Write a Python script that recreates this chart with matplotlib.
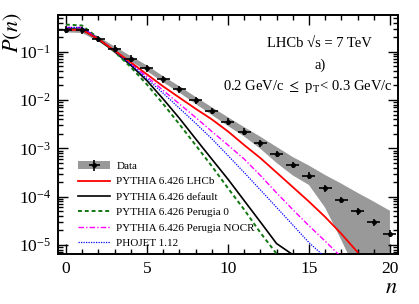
import numpy as np
import matplotlib
matplotlib.use("Agg")
import matplotlib.pyplot as plt
from matplotlib.patches import Patch
from matplotlib.legend_handler import HandlerTuple
from matplotlib.ticker import MultipleLocator, LogLocator, NullFormatter

plt.rcParams['font.family'] = ['Liberation Serif', 'DejaVu Serif']
plt.rcParams['mathtext.fontset'] = 'stix'

# multiplicity n
n_data = np.arange(0, 21)
p_data = [0.284, 0.275, 0.183, 0.114, 0.0718, 0.0452, 0.0269, 0.0166, 0.0098,
          0.0059, 0.00355, 0.00219, 0.00126, 7.6e-4, 4.5e-4, 2.7e-4, 1.5e-4,
          8.5e-5, 4.95e-5, 2.95e-5, 1.7e-5]
# systematic band (upper / lower edge)
band_hi = [0.32, 0.31, 0.205, 0.128, 0.081, 0.052, 0.031, 0.0193, 0.0116,
           0.0071, 0.0044, 0.00275, 0.00174, 0.00107, 6.6e-4, 4.4e-4, 2.8e-4,
           1.86e-4, 1.2e-4, 7.9e-5, 5.1e-5]
band_lo = [0.25, 0.243, 0.162, 0.1, 0.063, 0.0395, 0.0232, 0.0142, 0.0083,
           0.0049, 0.0029, 0.00176, 0.00098, 5.0e-4, 2.75e-4, 1.74e-4, 5.9e-5,
           1.26e-5, 2.5e-6, 1e-7, 1e-7]

n_lhcb = np.arange(0, 19)
p_lhcb = [0.282, 0.282, 0.182, 0.105, 0.0603, 0.0339, 0.0191, 0.0112, 0.0066,
          0.00398, 0.00224, 0.00117, 6.3e-4, 3.16e-4, 1.58e-4, 7.9e-5, 3.8e-5,
          1.7e-5, 7.1e-6]
n_def = np.arange(0, 15)
p_def = [0.295, 0.288, 0.178, 0.1, 0.0525, 0.0251, 0.0105, 0.0042, 0.00158,
         6.0e-4, 2.3e-4, 8.3e-5, 3.0e-5, 1.07e-5, 6.3e-6]
n_p0 = np.arange(0, 14)
p_p0 = [0.363, 0.347, 0.19, 0.1, 0.0479, 0.0209, 0.0083, 0.00316, 0.00117,
        4.3e-4, 1.5e-4, 5.4e-5, 1.8e-5, 6.6e-6]
n_nocr = np.arange(0, 18)
p_nocr = [0.316, 0.316, 0.186, 0.105, 0.0575, 0.0302, 0.0158, 0.0083, 0.00437,
          0.00224, 0.00117, 6.0e-4, 2.75e-4, 1.2e-4, 5.4e-5, 2.5e-5, 1.2e-5,
          5.6e-6]
n_phojet = np.arange(0, 17)
p_phojet = [0.316, 0.316, 0.186, 0.102, 0.055, 0.0275, 0.0138, 0.00676,
            0.00331, 0.00158, 7.1e-4, 3.16e-4, 1.38e-4, 6.0e-5, 2.6e-5,
            1.12e-5, 5.6e-6]

fig = plt.figure(figsize=(4.19, 3.04), dpi=100)
ax = fig.add_axes([0.138, 0.164, 0.812, 0.787])

ax.fill_between(n_data, band_lo, band_hi, color='#999999', lw=0, zorder=1)

p = np.array(p_data)
yerr = [p * (1 - 10 ** -0.07), p * (10 ** 0.07 - 1)]
eb = ax.errorbar(n_data, p_data, xerr=0.4, yerr=yerr, fmt='o', ms=2.5,
                 color='black', ecolor='black', elinewidth=1.2, capsize=0,
                 zorder=5)

l1, = ax.plot(n_lhcb, p_lhcb, color='red', lw=1.3, zorder=4)
l2, = ax.plot(n_def, p_def, color='black', lw=1.2, zorder=3)
l3, = ax.plot(n_p0, p_p0, color='#117711', lw=1.4, ls=(0, (2, 1.5)), zorder=3)
l4, = ax.plot(n_nocr, p_nocr, color='magenta', lw=1.0,
              ls=(0, (4, 1.5, 1, 1.5)), zorder=3)
l5, = ax.plot(n_phojet, p_phojet, color='blue', lw=0.9, ls=(0, (1, 1)),
              zorder=3)

ax.set_yscale('log')
ax.set_xlim(-0.5, 20.5)
ax.set_ylim(10 ** -5.19, 10 ** -0.24)

ax.xaxis.set_major_locator(MultipleLocator(5))
ax.xaxis.set_minor_locator(MultipleLocator(1))
ax.yaxis.set_major_locator(LogLocator(base=10, numticks=10))
ax.yaxis.set_minor_locator(LogLocator(base=10, subs=np.arange(2, 10), numticks=20))
ax.yaxis.set_minor_formatter(NullFormatter())
ax.tick_params(which='both', direction='in', top=True, right=True,
               labelsize=12.5, width=1.0)
ax.tick_params(which='major', length=7, pad=5)
ax.tick_params(which='minor', length=3.5)
for s in ax.spines.values():
    s.set_linewidth(1.4)

fig.text(0.03, 0.958, '$P(n)$', rotation=90, ha='center', va='top',
         fontsize=16)
fig.text(0.935, 0.02, '$n$', ha='center', va='bottom', fontsize=16)

ax.text(0.77, 0.88, 'LHCb \u221as = 7 TeV', transform=ax.transAxes,
        ha='center', va='center', fontsize=10.5)
ax.text(0.77, 0.79, 'a)', transform=ax.transAxes, ha='center', va='center',
        fontsize=10.5)
ax.text(0.735, 0.70, r'0.2 GeV/c $\leq$ p$_\mathrm{T}$< 0.3 GeV/c',
        transform=ax.transAxes, ha='center', va='center', fontsize=10.5)

data_handle = (Patch(facecolor='#999999', edgecolor='none'), eb)
ax.legend([data_handle, l1, l2, l3, l4, l5],
          ['Data', 'PYTHIA 6.426 LHCb', 'PYTHIA 6.426 default',
           'PYTHIA 6.426 Perugia 0', 'PYTHIA 6.426 Perugia NOCR',
           'PHOJET 1.12'],
          handler_map={tuple: HandlerTuple(ndivide=1)},
          loc='lower left', bbox_to_anchor=(0.03, -0.017), frameon=False,
          fontsize=8, handlelength=2.9, labelspacing=0.51, handletextpad=0.55)

fig.savefig('out.png', dpi=100)
